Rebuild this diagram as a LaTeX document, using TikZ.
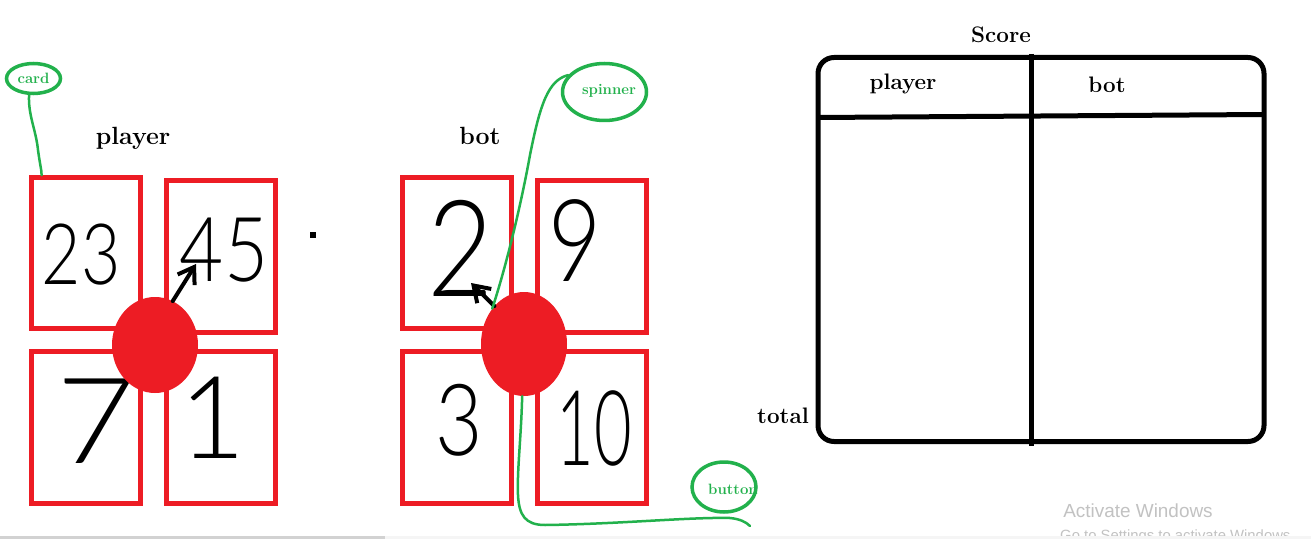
\documentclass[tikz,border=0pt]{standalone}
\usepackage{fontspec}
\newfontfamily\digitfont{Lato Light}
\newfontfamily\winfont{Liberation Sans}
\usetikzlibrary{shapes.geometric,arrows.meta,calc}
\definecolor{pred}{HTML}{ED1C24}
\definecolor{pgreen}{HTML}{22B14C}
\definecolor{wmgray}{HTML}{C2C2C2}
\newcommand\dg[1]{\digitfont\fontsize{#1}{#1}\selectfont}
\begin{document}
\begin{tikzpicture}[x=1bp,y=-1bp,
  card/.style={draw=pred,line width=5bp,minimum width=109bp,minimum height=151bp,inner sep=0pt},
  spot/.style={fill=pred,draw=none,ellipse,inner sep=0pt},
  digit/.style={inner sep=0pt,text=black},
  lbl/.style={font=\bfseries\fontsize{25}{30}\selectfont,inner sep=0pt,anchor=base},
  tlbl/.style={font=\bfseries\fontsize{22.5}{27}\selectfont,inner sep=0pt,anchor=base},
  note/.style={draw=pgreen,line width=3.5bp,ellipse,inner sep=0pt,text=pgreen,font=\bfseries\fontsize{15}{18}\selectfont},
  notetext/.style={text=pgreen,font=\bfseries\fontsize{15}{18}\selectfont,inner sep=0pt},
  link/.style={draw=pgreen,line width=2.5bp,line cap=round},
  pointer/.style={draw=black,line width=4bp,line cap=round,-{Straight Barb[length=15bp,width=20bp]}},
  gridline/.style={draw=black,line width=5bp}
]
\useasboundingbox (0,0) rectangle (1311,539);
\fill[white] (0,0) rectangle (1311,539);

% labels
\node[lbl] (plbl) at (133,145) {player};
\node[lbl] (blbl) at (480,145) {bot};

% player cards
\node[card] (p1) at (86,253.25) {};
\node[card] (p2) at (221,256.5) {};
\node[card,minimum height=151.5bp] (p3) at (86,427.25) {};
\node[card,minimum height=151.5bp] (p4) at (221,427.25) {};
% bot cards
\node[card] (b1) at (457,253.25) {};
\node[card] (b2) at (592.3,256.5) {};
\node[card,minimum height=151.5bp] (b3) at (457,427.25) {};
\node[card,minimum height=151.5bp] (b4) at (592.3,427.25) {};

% digits
\node[digit] (d23) at (81,255) {\scalebox{0.8}[1]{\dg{85}23}};
\node[digit] (d45) at (224,250) {\scalebox{0.85}[1]{\dg{90}45}};
\node[digit] (d7) at (96,421) {\scalebox{1.15}[1]{\dg{120}7}};
\node[digit] (d1) at (213,418) {\dg{115}1};
\node[digit] (d2) at (461,248) {\scalebox{0.85}[1]{\dg{135}2}};
\node[digit] (d9) at (575,241) {\scalebox{0.8}[1]{\dg{115}9}};
\node[digit] (d3) at (459,420) {\scalebox{0.82}[1]{\dg{100}3}};
\node[digit] (d10) at (594,428) {\scalebox{0.62}[1]{\dg{105}10}};

% spinners
\node[spot,minimum width=86bp,minimum height=96bp] (pc) at (155,345) {};
\node[spot,minimum width=86bp,minimum height=104bp] (bc) at (524,344) {};

% pointers
\coordinate (pt) at (196,264);
\coordinate (bt) at (471,283);
\draw[pointer] (pc.68) -- (pt);
\draw[pointer] (bc.128) -- (bt);

% dot
\fill[black] (310,232) rectangle (316,238);

% notes
\node[note,minimum width=54bp,minimum height=30bp] (cardn) at (33.5,78.5) {card};
\node[note,minimum width=84bp,minimum height=57bp] (spinn) at (604.5,92) {};
\node[notetext] (spint) at (609,91) {spinner};
\node[note,minimum width=64bp,minimum height=50bp] (btn) at (724,487) {};
\node[notetext] (btnt) at (733,489) {button};
\coordinate (cardtop) at ($(p1.north west)!0.11!(p1.north east)$);
\coordinate (btnend) at (750,526);

\draw[link] (cardn.255) .. controls (28,115) and (36,130) .. (38,150)
  .. controls (40,165) and (42,172) .. (cardtop);
\draw[link] (spinn.155) .. controls (548,80) and (540,105) .. (530,155)
  .. controls (520,210) and (505,270) .. (bc.132);
\draw[link] (bc.268) .. controls (521,440) and (517,470) .. (518,495)
  .. controls (519,515) and (525,525) .. (545,525)
  .. controls (620,524) and (690,517) .. (730,518)
  .. controls (740,519) and (746,522) .. (btnend);

% score table
\node[tlbl] (score) at (1001,43) {Score};
\draw[gridline,rounded corners=16bp] (818,57.5) rectangle (1264,441.5);
\draw[gridline] (1031,54) -- (1031,446);
\draw[gridline] (818,117.5) -- (1264,114.5);
\node[tlbl] (tplayer) at (903,90) {player};
\node[tlbl] (tbot) at (1107,93) {bot};
\node[tlbl] (ttotal) at (783,423) {total};

% watermark
\node[font=\winfont\fontsize{19}{19}\selectfont,text=wmgray,anchor=base,inner sep=0pt] (wm1) at (1138,517) {Activate Windows};
\node[font=\winfont\fontsize{14.9}{15}\selectfont,text=wmgray,anchor=base west,inner sep=0pt] (wm2) at (1060,540) {Go to Settings to activate Windows.};
\fill[gray!35] (0,536) rectangle (385,539);
\fill[gray!8] (385,536) rectangle (1311,539);
\end{tikzpicture}
\end{document}
